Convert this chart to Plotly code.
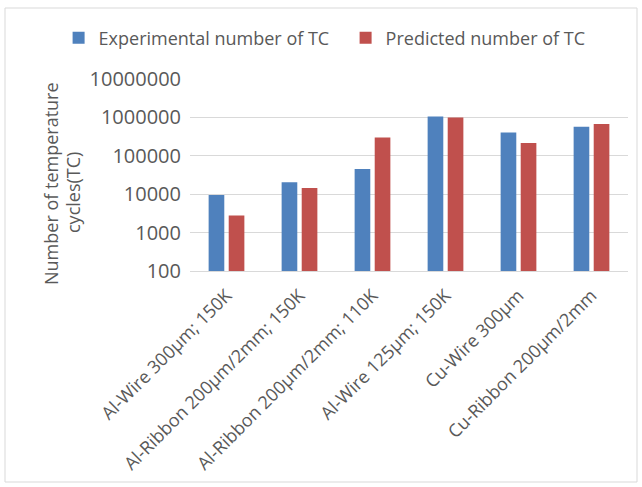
import plotly.graph_objects as go

categories = [
    "Al-Wire 300µm; 150K",
    "Al-Ribbon 200µm/2mm; 150K",
    "Al-Ribbon 200µm/2mm; 110K",
    "Al-Wire 125µm; 150K",
    "Cu-Wire 300µm",
    "Cu-Ribbon 200µm/2mm",
]
experimental_tc = [9500, 20500, 45000, 1060000, 405000, 570000]
predicted_tc = [2800, 14500, 300000, 1000000, 215000, 670000]
y_tick_values = [100, 1000, 10000, 100000, 1000000, 10000000]
y_tick_labels = ["100", "1000", "10000", "100000", "1000000", "10000000"]
y_title_lines = ["Number of temperature", "cycles(TC)"]

FONT = "Open Sans, Noto Sans, sans-serif"
TEXT_GRAY = "#595959"

# plot area in pixels: x 190..628, y 79..271
PL, PR, PT, PB = 190, 628, 79, 271


def px_x(px):
    return (px - PL) / (PR - PL)


def px_y(py):
    return (PB - py) / (PB - PT)


fig = go.Figure()
fig.add_trace(go.Bar(
    name="Experimental number of TC",
    x=categories, y=experimental_tc,
    marker=dict(color="#4f81bd", line=dict(width=0)),
))
fig.add_trace(go.Bar(
    name="Predicted number of TC",
    x=categories, y=predicted_tc,
    marker=dict(color="#c0504d", line=dict(width=0)),
))

# two-line rotated axis title
title_annotations = [
    dict(text=y_title_lines[0], x=px_x(51), y=px_y(184)),
    dict(text=y_title_lines[1], x=px_x(73), y=px_y(193)),
]
for a in title_annotations:
    a.update(xref="paper", yref="paper", showarrow=False, textangle=-90,
             xanchor="center", yanchor="middle",
             font=dict(family=FONT, size=18, color=TEXT_GRAY))

fig.update_layout(
    width=642, height=487,
    margin=dict(l=PL, r=642 - PR, t=PT, b=487 - PB, autoexpand=False),
    paper_bgcolor="white", plot_bgcolor="white",
    font=dict(family=FONT, size=18, color=TEXT_GRAY),
    barmode="group", bargap=0.45, bargroupgap=0.22,
    showlegend=True,
    legend=dict(
        orientation="h", x=-0.3, xanchor="left", y=px_y(38), yanchor="middle",
        font=dict(family=FONT, size=18, color=TEXT_GRAY),
        entrywidth=242, entrywidthmode="pixels",
        itemclick=False, itemdoubleclick=False,
        bgcolor="rgba(0,0,0,0)",
    ),
    annotations=title_annotations,
    shapes=[dict(
        type="rect", xref="paper", yref="paper",
        x0=px_x(5), x1=px_x(637), y0=px_y(482), y1=px_y(8),
        line=dict(color="#d9d9d9", width=1), fillcolor="rgba(0,0,0,0)",
        layer="below",
    )],
)

fig.update_yaxes(
    type="log", range=[2, 7],
    tickvals=y_tick_values, ticktext=y_tick_labels,
    showgrid=True, gridcolor="#d9d9d9", gridwidth=1,
    zeroline=False, showline=False, ticks="",
    ticklabelstandoff=8,
    tickfont=dict(family=FONT, size=20, color=TEXT_GRAY),
)
fig.update_xaxes(
    tickangle=-45, showgrid=False, ticks="",
    showline=True, linecolor="#d9d9d9", linewidth=1,
    ticklabelstandoff=6,
    tickfont=dict(family=FONT, size=18, color=TEXT_GRAY),
)

fig.write_html("out.html")
